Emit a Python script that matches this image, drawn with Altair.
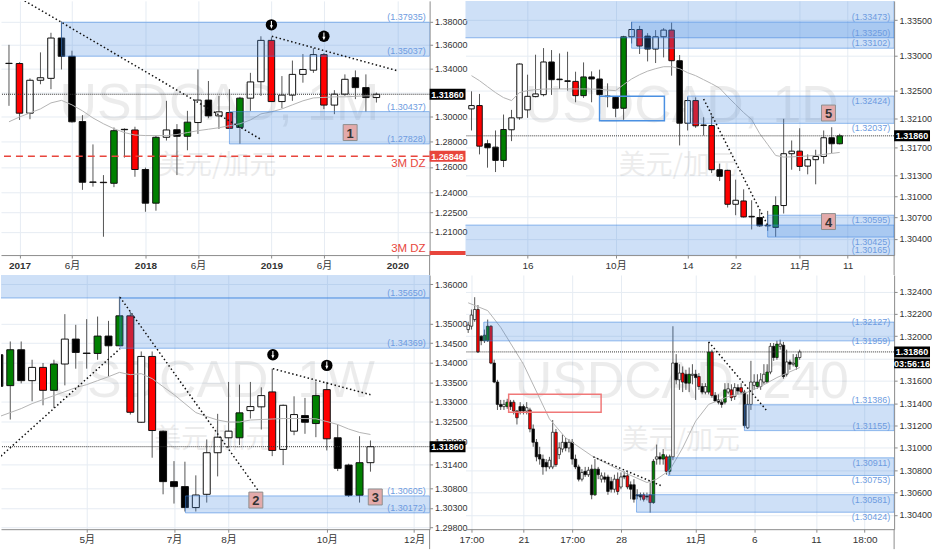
import json
import altair as alt
import pandas as pd

FONT = "Liberation Sans, Noto Sans CJK SC, sans-serif"
CJK = "Noto Sans CJK SC"
PLOT_W, PLOT_H = 430, 255
BODY_FILL = {"w": "#ffffff", "k": "#000000", "r": "#ff0000", "g": "#008000"}
ZONE_BLUE = "#3d85e0"
TAG_BLUE = "#6d9be0"
DZ_RED = "#e8453c"
AXIS_GREY = "#8c8c8c"

# ---------------- USDCAD 1M ----------------
m_open = [1.3444, 1.3442, 1.3031, 1.3302, 1.3318, 1.3658, 1.3503, 1.2963, 1.2482, 1.2480, 1.2472, 1.2900,
          1.2895, 1.2580, 1.2318, 1.2836, 1.2897, 1.2844, 1.2955, 1.3138, 1.3009, 1.3036, 1.2915, 1.3154,
          1.3290, 1.3638, 1.3126, 1.3179, 1.3351, 1.3386, 1.3517, 1.3097, 1.3187, 1.3323, 1.3241, 1.3159]
m_high = [1.3600, 1.3453, 1.3318, 1.3536, 1.3703, 1.3800, 1.3550, 1.3015, 1.2779, 1.2536, 1.2915, 1.2908,
          1.2921, 1.2595, 1.2850, 1.3132, 1.2942, 1.3050, 1.3392, 1.3296, 1.3173, 1.3228, 1.3165, 1.3364,
          1.3673, 1.3665, 1.3337, 1.3467, 1.3522, 1.3572, 1.3530, 1.3220, 1.3351, 1.3384, 1.3351, 1.3200]
m_low = [1.3091, 1.2976, 1.2982, 1.3269, 1.3228, 1.3392, 1.2955, 1.2421, 1.2446, 1.2062, 1.2442, 1.2674,
         1.2523, 1.2252, 1.2260, 1.2810, 1.2536, 1.2732, 1.2863, 1.2990, 1.2903, 1.2903, 1.2784, 1.3050,
         1.3173, 1.3126, 1.3072, 1.3132, 1.3282, 1.3364, 1.3064, 1.3023, 1.3173, 1.3146, 1.3044, 1.3118]
m_close = [1.3442, 1.3031, 1.3302, 1.3323, 1.3658, 1.3503, 1.2961, 1.2480, 1.2480, 1.2477, 1.2889, 1.2897,
           1.2580, 1.2318, 1.2836, 1.2895, 1.2844, 1.2958, 1.3138, 1.3009, 1.3042, 1.2908, 1.3154, 1.3288,
           1.3638, 1.3126, 1.3179, 1.3351, 1.3392, 1.3517, 1.3097, 1.3187, 1.3310, 1.3241, 1.3159, 1.3186]
m_paint = ["k", "r", "w", "w", "w", "k", "k", "k", "k", "r", "g", "k", "r", "k", "g", "w", "k", "g",
           "w", "k", "w", "r", "g", "w", "w", "r", "w", "w", "w", "w", "r", "w", "w", "k", "k", "w"]
m_ma = [1.2961, 1.3000, 1.3033, 1.3066, 1.3115, 1.3136, 1.3099, 1.3050, 1.2992, 1.2945, 1.2905, 1.2874,
        1.2854, 1.2850, 1.2850, 1.2850, 1.2858, 1.2874, 1.2889, 1.2901, 1.2913, 1.2929, 1.2945, 1.2976,
        1.3025, 1.3042, 1.3066, 1.3099, 1.3132, 1.3156, 1.3160, 1.3165, 1.3165, 1.3169, 1.3173, 1.3173]
m_tick_pos = [1, 6, 13, 18, 25, 30, 37]
m_tick_txt = ["2017", "6月", "2018", "6月", "2019", "6月", "2020"]
m_year_ticks = [1, 13, 25, 37]
m_price_ticks = [1.38, 1.36, 1.34, 1.32, 1.30, 1.28, 1.26, 1.24, 1.225, 1.21]
m_price_hidden = [1.32]
m_zone_from = [5, 21]
m_zone_top = [1.37935, 1.30437]
m_zone_bottom = [1.35037, 1.27828]
m_tags_above = [1.37935, 1.35037, 1.30437, 1.27828]
m_trend_id = [0, 0, 1, 1]
m_trend_x = [1.5, 23.9, 25.04, 36.9]
m_trend_p = [1.398, 1.2824, 1.3673, 1.3384]
m_arrow_x = [25, 30]
m_arrow_p = [1.3771, 1.3673]
m_box_txt = ["1"]
m_box_x = [32.5]
m_box_p = [1.2874]
m_dz_level = 1.26846

# ---------------- USDCAD 1D ----------------
d_open = [1.32242, 1.32289, 1.31748, 1.31700, 1.31512, 1.31946, 1.32115, 1.32228, 1.32416, 1.32444, 1.32907,
          1.32664, 1.32640, 1.32632, 1.32430, 1.32695, 1.32666, 1.32424, 1.32406, 1.32251, 1.33264, 1.33367,
          1.33274, 1.33090, 1.33264, 1.33359, 1.32925, 1.32039, 1.32360, 1.32014, 1.32006, 1.31380, 1.31371,
          1.30890, 1.30937, 1.30719, 1.30702, 1.30592, 1.30561, 1.30872, 1.31607, 1.31643, 1.31431, 1.31522,
          1.31568, 1.31833, 1.31748]
d_high = [1.32491, 1.32454, 1.31804, 1.31936, 1.32162, 1.32228, 1.32887, 1.32727, 1.33010, 1.33104, 1.33076,
          1.33028, 1.33052, 1.32769, 1.32901, 1.32774, 1.32798, 1.32604, 1.32416, 1.33278, 1.33476, 1.33419,
          1.33316, 1.33359, 1.33387, 1.33466, 1.33005, 1.32406, 1.32406, 1.32124, 1.32148, 1.31465, 1.31380,
          1.31239, 1.31102, 1.30947, 1.30796, 1.30796, 1.31003, 1.32101, 1.31794, 1.31968, 1.31597, 1.31663,
          1.31936, 1.31982, 1.31889]
d_low = [1.31936, 1.31597, 1.31409, 1.31347, 1.31417, 1.31785, 1.32087, 1.32115, 1.32406, 1.32420, 1.32440,
         1.32525, 1.32501, 1.32336, 1.32398, 1.32336, 1.32172, 1.32265, 1.32124, 1.32087, 1.33169, 1.33020,
         1.32915, 1.32892, 1.32972, 1.32713, 1.31724, 1.31936, 1.31974, 1.31865, 1.31332, 1.31219, 1.30844,
         1.30735, 1.30702, 1.30533, 1.30569, 1.30513, 1.30428, 1.30759, 1.31380, 1.31361, 1.31314, 1.31173,
         1.31465, 1.31615, 1.31738]
d_close = [1.32289, 1.31714, 1.31691, 1.31512, 1.31950, 1.32115, 1.32878, 1.32420, 1.32454, 1.32907, 1.32656,
           1.32656, 1.32632, 1.32430, 1.32695, 1.32666, 1.32444, 1.32416, 1.32251, 1.33264, 1.33367, 1.33133,
           1.33090, 1.33264, 1.33359, 1.32925, 1.32039, 1.32360, 1.32002, 1.32006, 1.31380, 1.31286, 1.30890,
           1.30947, 1.30711, 1.30711, 1.30584, 1.30584, 1.30872, 1.31607, 1.31643, 1.31427, 1.31522, 1.31568,
           1.31833, 1.31748, 1.31860]
d_paint = ["w", "r", "k", "k", "g", "w", "w", "w", "w", "w", "k", "k", "k", "r", "g", "k", "k", "k", "k",
           "g", "w", "r", "k", "w", "w", "r", "k", "w", "r", "k", "r", "k", "r", "w", "r", "k", "k", "k",
           "g", "w", "w", "r", "w", "w", "w", "k", "g"]
d_ma = [1.32713, 1.32642, 1.32557, 1.32473, 1.32402, 1.32360, 1.32473, 1.32501, 1.32515, 1.32522, 1.32525,
        1.32525, 1.32525, 1.32525, 1.32525, 1.32522, 1.32522, 1.32508, 1.32501, 1.32586, 1.32666, 1.32727,
        1.32777, 1.32812, 1.32840, 1.32840, 1.32812, 1.32755, 1.32713, 1.32656, 1.32599, 1.32536, 1.32416,
        1.32303, 1.32190, 1.32091, 1.31893, 1.31738, 1.31582, 1.31559, 1.31562, 1.31568, 1.31575, 1.31582,
        1.31597, 1.31611, 1.31625]
d_tick_pos = [7, 18, 27, 33, 41, 47]
d_tick_txt = ["16", "10月", "14", "22", "11月", "11"]
d_price_ticks = [1.335, 1.33, 1.325, 1.321, 1.317, 1.313, 1.31, 1.307, 1.304]
d_zone_from = [-1, 20, 27, -1, 37]
d_zone_top = [1.3400, 1.33473, 1.32424, 1.30595, 1.30735]
d_zone_bottom = [1.33250, 1.33102, 1.32037, 1.30165, 1.30425]
d_tags_above = [1.33473, 1.33250, 1.33102, 1.30595, 1.30165]
d_tags_below = [1.32424, 1.32037, 1.30425]
d_frame = (16, 24.1, 1.3242, 1.32075)
d_trend_id = [0, 0]
d_trend_x = [29, 37]
d_trend_p = [1.32382, 1.30591]
d_box_txt = ["5", "4"]
d_box_x = [44.6, 44.6]
d_box_p = [1.32183, 1.30645]

# ---------------- USDCAD 1W ----------------
w_open = [1.34203, 1.33416, 1.34331, 1.33543, 1.33881, 1.33296, 1.33967, 1.34602, 1.34245, 1.34237, 1.34679,
          1.34432, 1.35195, 1.32483, 1.34160, 1.32255, 1.30969, 1.30842, 1.30308, 1.30646, 1.31706, 1.32087,
          1.32087, 1.32780, 1.32875, 1.33256, 1.31790, 1.32255, 1.32653, 1.32450, 1.33314, 1.32087, 1.31391,
          1.30621, 1.31452]
w_high = [1.34350, 1.34541, 1.34541, 1.34076, 1.33993, 1.34076, 1.35238, 1.34966, 1.35111, 1.35177, 1.35067,
          1.35685, 1.35304, 1.34287, 1.34287, 1.32272, 1.31492, 1.31477, 1.31129, 1.32044, 1.32697, 1.33510,
          1.33441, 1.33510, 1.33373, 1.33848, 1.32933, 1.33144, 1.33103, 1.33525, 1.33510, 1.32425, 1.31426,
          1.32127, 1.32018]
w_low = [1.33250, 1.32552, 1.33474, 1.33017, 1.32915, 1.32849, 1.33423, 1.33848, 1.33848, 1.34076, 1.33652,
         1.34432, 1.32679, 1.32468, 1.31579, 1.30646, 1.30410, 1.30207, 1.30207, 1.30435, 1.31103, 1.31833,
         1.31899, 1.32577, 1.32298, 1.31619, 1.31391, 1.32153, 1.32188, 1.32102, 1.31764, 1.31238, 1.30577,
         1.30435, 1.31223]
w_close = [1.33398, 1.34331, 1.33543, 1.33881, 1.33296, 1.33967, 1.34602, 1.34262, 1.34237, 1.34679, 1.34432,
           1.35195, 1.32737, 1.34160, 1.32272, 1.30969, 1.30842, 1.30308, 1.30628, 1.31706, 1.32102, 1.32255,
           1.32722, 1.32882, 1.33162, 1.31764, 1.32915, 1.32679, 1.32483, 1.33162, 1.32061, 1.31307, 1.30621,
           1.31452, 1.31860]
w_paint = ["k", "g", "k", "w", "r", "g", "w", "k", "k", "g", "k", "g", "r", "w", "r", "k", "k", "k", "w",
           "w", "w", "w", "g", "w", "w", "r", "w", "w", "k", "g", "r", "k", "k", "g", "w"]
w_ma = [1.32628, 1.32730, 1.32831, 1.32958, 1.33060, 1.33162, 1.33263, 1.33365, 1.33441, 1.33543, 1.33644,
        1.33754, 1.33695, 1.33721, 1.33594, 1.33390, 1.33187, 1.32958, 1.32730, 1.32628, 1.32539, 1.32488,
        1.32488, 1.32539, 1.32552, 1.32565, 1.32577, 1.32577, 1.32577, 1.32570, 1.32501, 1.32425, 1.32310,
        1.32222, 1.32171]
w_tick_pos = [8, 16, 21, 30, 38]
w_tick_txt = ["5月", "7月", "8月", "10月", "12月"]
w_price_ticks = [1.36, 1.35, 1.345, 1.34, 1.335, 1.33, 1.325, 1.32, 1.314, 1.308, 1.303, 1.298]
w_zone_from = [-1, 11.05, 17.05]
w_zone_top = [1.3650, 1.35650, 1.30605]
w_zone_bottom = [1.35650, 1.34369, 1.30172]
w_tags_above = [1.35650, 1.34369, 1.30605, 1.30172]
w_trend_id = [0, 0, 1, 1, 2, 2]
w_trend_x = [0.15, 11.05, 11.05, 23.74, 25.06, 34.0]
w_trend_p = [1.3162, 1.34356, 1.3567, 1.3073, 1.33848, 1.33186]
w_arrow_x = [25.06, 30.0]
w_arrow_p = [1.34203, 1.33932]
w_box_txt = ["2", "3"]
w_box_x = [23.5, 34.44]
w_box_p = [1.30499, 1.30578]

# ---------------- USDCAD 240 ----------------
h_open = [1.3206, 1.3209, 1.3215, 1.3224, 1.3200, 1.3196, 1.3196, 1.3209, 1.3176, 1.3159,
          1.3139, 1.3137, 1.3137, 1.3141, 1.3141, 1.3133, 1.3137, 1.3137, 1.3133, 1.3134,
          1.3117, 1.3105, 1.3094, 1.3090, 1.3087, 1.3083, 1.3083, 1.3114, 1.3094, 1.3099,
          1.3105, 1.3100, 1.3105, 1.3090, 1.3083, 1.3072, 1.3079, 1.3076, 1.3081, 1.3058,
          1.3081, 1.3072, 1.3074, 1.3074, 1.3070, 1.3063, 1.3072, 1.3065, 1.3075, 1.3075,
          1.3067, 1.3067, 1.3058, 1.3058, 1.3058, 1.3057, 1.3058, 1.3051, 1.3090, 1.3092,
          1.3090, 1.3092, 1.3079, 1.3092, 1.3176, 1.3161, 1.3167, 1.3166, 1.3158, 1.3165,
          1.3166, 1.3164, 1.3155, 1.3150, 1.3150, 1.3186, 1.3147, 1.3143, 1.3141, 1.3141,
          1.3150, 1.3152, 1.3146, 1.3154, 1.3154, 1.3150, 1.3118, 1.3139, 1.3156, 1.3155,
          1.3155, 1.3159, 1.3159, 1.3168, 1.3191, 1.3181, 1.3191, 1.3192, 1.3166, 1.3177,
          1.3175, 1.3173, 1.3181]
h_high = [1.3213, 1.3224, 1.3235, 1.3228, 1.3201, 1.3206, 1.3215, 1.3210, 1.3179, 1.3161,
          1.3143, 1.3143, 1.3144, 1.3143, 1.3143, 1.3134, 1.3141, 1.3139, 1.3141, 1.3136,
          1.3121, 1.3108, 1.3101, 1.3094, 1.3090, 1.3092, 1.3125, 1.3117, 1.3105, 1.3112,
          1.3109, 1.3108, 1.3108, 1.3094, 1.3085, 1.3081, 1.3083, 1.3083, 1.3085, 1.3090,
          1.3083, 1.3078, 1.3078, 1.3076, 1.3074, 1.3076, 1.3078, 1.3078, 1.3079, 1.3078,
          1.3070, 1.3072, 1.3063, 1.3060, 1.3060, 1.3060, 1.3069, 1.3090, 1.3103, 1.3096,
          1.3099, 1.3094, 1.3094, 1.3209, 1.3184, 1.3175, 1.3173, 1.3170, 1.3172, 1.3175,
          1.3170, 1.3167, 1.3158, 1.3158, 1.3195, 1.3188, 1.3150, 1.3148, 1.3143, 1.3158,
          1.3158, 1.3157, 1.3158, 1.3157, 1.3158, 1.3152, 1.3148, 1.3178, 1.3166, 1.3166,
          1.3167, 1.3175, 1.3175, 1.3194, 1.3194, 1.3196, 1.3197, 1.3195, 1.3188, 1.3179,
          1.3184, 1.3184, 1.3188]
h_low = [1.3203, 1.3206, 1.3213, 1.3185, 1.3192, 1.3194, 1.3195, 1.3175, 1.3158, 1.3134,
         1.3134, 1.3134, 1.3135, 1.3134, 1.3130, 1.3121, 1.3130, 1.3130, 1.3130, 1.3114,
         1.3101, 1.3088, 1.3085, 1.3076, 1.3079, 1.3081, 1.3081, 1.3083, 1.3090, 1.3096,
         1.3097, 1.3096, 1.3085, 1.3081, 1.3070, 1.3070, 1.3074, 1.3074, 1.3054, 1.3057,
         1.3072, 1.3069, 1.3069, 1.3058, 1.3060, 1.3060, 1.3058, 1.3063, 1.3072, 1.3063,
         1.3054, 1.3051, 1.3054, 1.3053, 1.3052, 1.3053, 1.3042, 1.3050, 1.3085, 1.3085,
         1.3085, 1.3076, 1.3076, 1.3089, 1.3157, 1.3152, 1.3150, 1.3152, 1.3150, 1.3157,
         1.3143, 1.3152, 1.3148, 1.3148, 1.3148, 1.3145, 1.3141, 1.3139, 1.3136, 1.3139,
         1.3148, 1.3142, 1.3143, 1.3148, 1.3148, 1.3118, 1.3117, 1.3134, 1.3152, 1.3153,
         1.3152, 1.3157, 1.3158, 1.3166, 1.3178, 1.3179, 1.3188, 1.3162, 1.3164, 1.3170,
         1.3173, 1.3170, 1.3179]
h_close = [1.3210, 1.3219, 1.3224, 1.3186, 1.3196, 1.3201, 1.3209, 1.3176, 1.3159, 1.3139,
           1.3137, 1.3139, 1.3141, 1.3137, 1.3133, 1.3127, 1.3133, 1.3133, 1.3136, 1.3117,
           1.3105, 1.3092, 1.3090, 1.3083, 1.3083, 1.3089, 1.3114, 1.3085, 1.3100, 1.3105,
           1.3100, 1.3105, 1.3090, 1.3083, 1.3072, 1.3078, 1.3076, 1.3080, 1.3058, 1.3081,
           1.3076, 1.3075, 1.3072, 1.3061, 1.3063, 1.3072, 1.3061, 1.3074, 1.3074, 1.3065,
           1.3063, 1.3054, 1.3057, 1.3056, 1.3054, 1.3056, 1.3051, 1.3088, 1.3092, 1.3090,
           1.3094, 1.3079, 1.3092, 1.3176, 1.3161, 1.3167, 1.3159, 1.3158, 1.3166, 1.3166,
           1.3163, 1.3155, 1.3150, 1.3155, 1.3186, 1.3147, 1.3142, 1.3141, 1.3139, 1.3152,
           1.3153, 1.3145, 1.3154, 1.3151, 1.3150, 1.3120, 1.3139, 1.3159, 1.3159, 1.3159,
           1.3161, 1.3166, 1.3168, 1.3191, 1.3181, 1.3193, 1.3193, 1.3164, 1.3177, 1.3175,
           1.3176, 1.3181, 1.3186]
h_paint = ["w", "w", "w", "r", "k", "g", "g", "r", "k", "k",
           "k", "w", "g", "k", "r", "r", "k", "k", "w", "r",
           "k", "k", "k", "k", "k", "w", "w", "r", "w", "w",
           "k", "w", "k", "k", "k", "w", "k", "w", "k", "g",
           "k", "w", "k", "k", "k", "w", "r", "w", "k", "r",
           "k", "k", "k", "k", "r", "k", "r", "g", "w", "k",
           "g", "r", "g", "w", "k", "w", "r", "k", "g", "w",
           "k", "r", "k", "w", "g", "r", "k", "k", "k", "g",
           "w", "r", "w", "k", "r", "k", "w", "w", "w", "g",
           "w", "w", "g", "w", "k", "g", "w", "k", "w", "k",
           "w", "g", "w"]
h_ma_at = [0, 6, 10, 17, 25, 30, 38, 48, 55, 58, 62, 66, 70, 74, 80, 86, 90, 95, 102]
h_ma = [1.3230, 1.3223, 1.3208, 1.3175, 1.3126, 1.3109, 1.3093, 1.3078, 1.3069, 1.3072, 1.3080, 1.3100,
        1.3124, 1.3139, 1.3146, 1.3150, 1.3155, 1.3163, 1.3172]
h_tick_pos = [1, 17, 32, 47, 70, 88, 107, 122]
h_tick_txt = ["17:00", "21", "17:00", "28", "11月", "6", "11", "18:00"]
h_price_ticks = [1.324, 1.322, 1.32, 1.318, 1.316, 1.314, 1.312, 1.31, 1.308, 1.306, 1.304]
h_price_hidden = [1.318]
h_zone_from = [4.8, 85, 61.5, 51.8]
h_zone_top = [1.32127, 1.31386, 1.30911, 1.30581]
h_zone_bottom = [1.31959, 1.31155, 1.30753, 1.30424]
h_tags_on = [1.32127, 1.31959]
h_tags_above = [1.31386, 1.31155]
h_tags_below = [1.30911, 1.30753, 1.30581, 1.30424]
h_frame = (12.45, 40.9, 1.3148, 1.3132)
h_trend_id = [0, 0, 1, 1]
h_trend_x = [38.5, 59.5, 74, 91.7]
h_trend_p = [1.3092, 1.3066, 1.3195, 1.3134]

last_price = 1.31860
countdown = "03:56:16"


def label_expr(pos, txt):
    return f"{json.dumps(txt, ensure_ascii=False)}[indexof({json.dumps(pos)}, datum.value)]"


def panel(cfg):
    xs = alt.Scale(domain=cfg["xdom"], nice=False, zero=False, padding=0)
    ys = alt.Scale(type=cfg.get("ytype", "linear"), domain=cfg["ydom"], nice=False, zero=False, padding=0)

    axis_common = dict(title=None, grid=True, gridColor="#e6ecf3", tickSize=3, labelPadding=2,
                       labelFont=FONT, labelColor="#333333", domainColor=AXIS_GREY,
                       tickColor=AXIS_GREY, labelOverlap=False, labelFlush=False)
    xax_kw = dict(axis_common, values=cfg["xticks"], labelExpr=label_expr(cfg["xticks"], cfg["xlabels"]),
                  labelFontSize=10)
    if cfg.get("bold_ticks"):
        xax_kw["labelFontWeight"] = {"condition": {"test": f"indexof({json.dumps(cfg['bold_ticks'])}, datum.value) >= 0",
                                                   "value": "bold"}, "value": "normal"}
    xax = alt.Axis(orient="bottom", **xax_kw)
    hidden = json.dumps(cfg.get("yhidden", []))
    yax = alt.Axis(orient="right", values=cfg["yticks"],
                   labelExpr=f"indexof({hidden}, datum.value) >= 0 ? '' : format(datum.value, '.5f')",
                   labelFontSize=9, **axis_common)

    def X(f):
        return alt.X(f, type="quantitative", scale=xs, axis=xax)

    def Y(f):
        return alt.Y(f, type="quantitative", scale=ys, axis=yax)

    layers = []

    # watermark
    layers.append(alt.Chart(pd.DataFrame({"t": [cfg["wm"]]})).mark_text(
        font="Liberation Sans", fontSize=52, color="#000000", opacity=0.07, align="center",
        baseline="alphabetic"
    ).encode(x=alt.value(cfg["wm_at"][0]), y=alt.value(cfg["wm_at"][1]), text="t:N"))
    layers.append(alt.Chart(pd.DataFrame({"t": ["美元/加元"]})).mark_text(
        font=CJK, fontSize=27, color="#000000", opacity=0.07, align="center", baseline="alphabetic"
    ).encode(x=alt.value(cfg["cjk_at"][0]), y=alt.value(cfg["cjk_at"][1]), text="t:N"))

    # candles
    n = len(cfg["o"])
    cdf = pd.DataFrame({"i": list(range(n)), "o": cfg["o"], "h": cfg["h"], "l": cfg["l"],
                        "c": cfg["c"], "col": cfg["paint"]})
    layers.append(alt.Chart(cdf).mark_rule(color="#555555", strokeWidth=1, clip=True).encode(
        x=X("i"), y=Y("l"), y2="h:Q"))
    layers.append(alt.Chart(cdf).transform_calculate(
        lo="min(datum.o, datum.c)", hi="max(datum.o, datum.c)"
    ).mark_bar(size=cfg["bw"], stroke="#111111", strokeWidth=cfg["bsw"], clip=True).encode(
        x=X("i"), y=Y("lo"), y2="hi:Q",
        fill=alt.Fill("col:N", scale=alt.Scale(domain=list(BODY_FILL), range=list(BODY_FILL.values())),
                      legend=None)))

    # moving average
    mdf = pd.DataFrame({"i": cfg["ma_at"], "v": cfg["ma"]})
    layers.append(alt.Chart(mdf).mark_line(color="#b4b4b4", strokeWidth=1, clip=True).encode(
        x=X("i"), y=Y("v")))

    # supply / demand zones
    zdf = pd.DataFrame({"x0": cfg["zone_from"], "top": cfg["zone_top"], "bot": cfg["zone_bottom"]})
    zdf["x1"] = cfg["xdom"][1]
    layers.append(alt.Chart(zdf).mark_rect(fill=ZONE_BLUE, fillOpacity=0.25, stroke=ZONE_BLUE,
                                           strokeOpacity=0.55, strokeWidth=1, clip=True).encode(
        x=X("x0"), x2="x1:Q", y=Y("top"), y2="bot:Q"))

    # outlined boxes
    if cfg.get("frame"):
        f = cfg["frame"]
        fdf = pd.DataFrame({"x0": [f[0]], "x1": [f[1]], "top": [f[2]], "bot": [f[3]]})
        layers.append(alt.Chart(fdf).mark_rect(fillOpacity=0, stroke=cfg["frame_color"], strokeWidth=1.5,
                                               clip=True).encode(
            x=X("x0"), x2="x1:Q", y=Y("top"), y2="bot:Q"))

    # 3M demand line
    if cfg.get("dz"):
        ddf = pd.DataFrame({"p": [cfg["dz"]]})
        layers.append(alt.Chart(ddf).mark_rule(color=DZ_RED, strokeWidth=1.5, strokeDash=[7, 5]).encode(
            y=Y("p")))
        layers.append(alt.Chart(ddf).transform_calculate(t="'3M DZ'").mark_text(
            align="right", baseline="middle", dy=8, font=FONT, fontSize=11.5, color=DZ_RED
        ).encode(x=alt.value(426), y=Y("p"), text="t:N"))
        layers.append(alt.Chart(pd.DataFrame({"t": ["3M DZ"]})).mark_text(
            align="right", baseline="middle", font=FONT, fontSize=11.5, color=DZ_RED
        ).encode(x=alt.value(426), y=alt.value(249), text="t:N"))
        layers.append(alt.Chart(pd.DataFrame({"t": ["3M DZ"]})).mark_rect(color=DZ_RED).encode(
            x=alt.value(430), x2=alt.value(466), y=alt.value(251), y2=alt.value(255)))

    # last price line
    pdf = pd.DataFrame({"p": [last_price]})
    layers.append(alt.Chart(pdf).mark_rule(color="#333333", strokeWidth=1, strokeDash=[1, 1]).encode(
        y=Y("p")))

    # trend lines
    tdf = pd.DataFrame({"g": cfg["trend_id"], "i": cfg["trend_x"], "p": cfg["trend_p"]})
    layers.append(alt.Chart(tdf).mark_line(color="#111111", strokeWidth=1.5, strokeDash=[1.5, 2.5],
                                           clip=True).encode(
        x=X("i"), y=Y("p"), detail="g:N"))

    # pivot arrows
    if cfg.get("arrow_x"):
        adf = pd.DataFrame({"i": cfg["arrow_x"], "p": cfg["arrow_p"]})
        layers.append(alt.Chart(adf).mark_point(shape="circle", filled=True, color="#000000", size=130,
                                                opacity=1).encode(x=X("i"), y=Y("p")))
        layers.append(alt.Chart(adf).mark_point(shape="arrow", angle=180, filled=True, color="#ffffff",
                                                size=60, opacity=1).encode(x=X("i"), y=Y("p")))

    # numbered boxes
    if cfg.get("box_txt"):
        bdf = pd.DataFrame({"t": cfg["box_txt"], "i": cfg["box_x"], "p": cfg["box_p"]})
        layers.append(alt.Chart(bdf).mark_rect(fill="#e3aaaa", stroke="#8f8f8f", strokeWidth=1,
                                               xOffset=-7, x2Offset=7, yOffset=-8, y2Offset=8).encode(
            x=X("i"), x2="i:Q", y=Y("p"), y2="p:Q"))
        layers.append(alt.Chart(bdf).mark_text(font="Liberation Sans", fontSize=13, fontWeight="bold",
                                               color="#333333", baseline="middle", dy=1).encode(
            x=X("i"), y=Y("p"), text="t:N"))

    # zone price tags
    for key, dy in (("tags_above", -5), ("tags_below", 5), ("tags_on", 0)):
        if cfg.get(key):
            gdf = pd.DataFrame({"v": cfg[key]})
            layers.append(alt.Chart(gdf).transform_calculate(t="'(' + format(datum.v, '.5f') + ')'").mark_text(
                align="right", baseline="middle", dy=dy, font=FONT, fontSize=9, color=TAG_BLUE
            ).encode(x=alt.value(426), y=Y("v"), text="t:N"))

    # pane border below the price scale
    layers.append(alt.Chart(pd.DataFrame({"k": [0]})).mark_rule(color=AXIS_GREY, strokeWidth=1).encode(
        x=alt.value(PLOT_W), y=alt.value(PLOT_H), y2=alt.value(PLOT_H + 20)))

    # price-scale badges
    badges = [(last_price, f"{last_price:.5f}", "#000000", -5.5, 5.5)]
    if cfg.get("dz"):
        badges.append((cfg["dz"], f"{cfg['dz']:.5f}", DZ_RED, -5.5, 5.5))
    if cfg.get("countdown"):
        badges.append((last_price, countdown, "#000000", 6.5, 16.5))
    for p, txt, col, o1, o2 in badges:
        bd = pd.DataFrame({"p": [p], "t": [txt]})
        layers.append(alt.Chart(bd).mark_rect(color=col, yOffset=o1, y2Offset=o2).encode(
            x=alt.value(PLOT_W), x2=alt.value(PLOT_W + 36), y=Y("p"), y2="p:Q"))
        layers.append(alt.Chart(bd).mark_text(color="#ffffff", fontWeight="bold", font=FONT, fontSize=9,
                                              baseline="middle", align="center",
                                              dy=(o1 + o2) / 2 + 0.5).encode(
            x=alt.value(PLOT_W + 18), y=Y("p"), text="t:N"))

    return alt.layer(*layers).properties(width=PLOT_W, height=PLOT_H)


monthly = panel(dict(
    xdom=[-0.76, 40.07], ydom=[1.19246, 1.3979], ytype="log",
    xticks=m_tick_pos, xlabels=m_tick_txt, bold_ticks=m_year_ticks, yticks=m_price_ticks,
    yhidden=m_price_hidden,
    o=m_open, h=m_high, l=m_low, c=m_close, paint=m_paint, bw=6.5, bsw=1,
    ma_at=list(range(len(m_ma))), ma=m_ma,
    zone_from=m_zone_from, zone_top=m_zone_top, zone_bottom=m_zone_bottom, tags_above=m_tags_above,
    trend_id=m_trend_id, trend_x=m_trend_x, trend_p=m_trend_p,
    arrow_x=m_arrow_x, arrow_p=m_arrow_p, box_txt=m_box_txt, box_x=m_box_x, box_p=m_box_p,
    dz=m_dz_level, wm="USDCAD, 1M", wm_at=(219, 120), cjk_at=(217, 174)))

daily = panel(dict(
    xdom=[-0.75, 52.8], ydom=[1.3017, 1.33773],
    xticks=d_tick_pos, xlabels=d_tick_txt, yticks=d_price_ticks,
    o=d_open, h=d_high, l=d_low, c=d_close, paint=d_paint, bw=5.5, bsw=1,
    ma_at=list(range(len(d_ma))), ma=d_ma,
    zone_from=d_zone_from, zone_top=d_zone_top, zone_bottom=d_zone_bottom,
    tags_above=d_tags_above, tags_below=d_tags_below,
    frame=d_frame, frame_color="#4a90e2",
    trend_id=d_trend_id, trend_x=d_trend_x, trend_p=d_trend_p,
    box_txt=d_box_txt, box_x=d_box_x, box_p=d_box_p,
    wm="USDCAD, 1D", wm_at=(217, 122), cjk_at=(213, 174)))

weekly = panel(dict(
    xdom=[0.15, 39.42], ydom=[1.29757, 1.36236],
    xticks=w_tick_pos, xlabels=w_tick_txt, yticks=w_price_ticks,
    o=w_open, h=w_high, l=w_low, c=w_close, paint=w_paint, bw=7, bsw=1,
    ma_at=list(range(len(w_ma))), ma=w_ma,
    zone_from=w_zone_from, zone_top=w_zone_top, zone_bottom=w_zone_bottom, tags_above=w_tags_above,
    trend_id=w_trend_id, trend_x=w_trend_x, trend_p=w_trend_p,
    arrow_x=w_arrow_x, arrow_p=w_arrow_p, box_txt=w_box_txt, box_x=w_box_x, box_p=w_box_p,
    wm="USDCAD, 1W", wm_at=(212, 122), cjk_at=(213, 174)))

four_hour = panel(dict(
    xdom=[-0.83, 131.07], ydom=[1.30272, 1.32549],
    xticks=h_tick_pos, xlabels=h_tick_txt, yticks=h_price_ticks, yhidden=h_price_hidden,
    o=h_open, h=h_high, l=h_low, c=h_close, paint=h_paint, bw=2.6, bsw=0.7,
    ma_at=h_ma_at, ma=h_ma,
    zone_from=h_zone_from, zone_top=h_zone_top, zone_bottom=h_zone_bottom,
    tags_on=h_tags_on, tags_above=h_tags_above, tags_below=h_tags_below,
    frame=h_frame, frame_color="#f07878",
    trend_id=h_trend_id, trend_x=h_trend_x, trend_p=h_trend_p,
    countdown=True,
    wm="USDCAD, 240", wm_at=(217, 123), cjk_at=(216, 175)))

chart = alt.concat(
    monthly, daily, weekly, four_hour, columns=2,
    spacing={"row": 20, "column": 36}, bounds="flush"
).properties(padding=0, background="#ffffff").configure_view(stroke=None)

chart.save("out.html", embed_options={"renderer": "svg", "actions": False})
